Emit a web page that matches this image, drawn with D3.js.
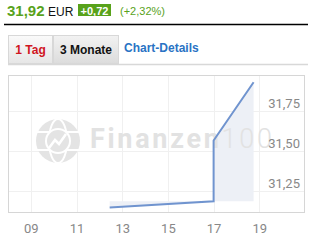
<!DOCTYPE html>
<html>
<head>
<meta charset="UTF-8">
<title>Kurs 1 Tag</title>
<script src="https://cdn.jsdelivr.net/npm/d3@7"></script>
<style>
  body { margin: 0; background: #fff; font-family: "Liberation Sans", Arial, sans-serif; }
  svg { display: block; }
</style>
</head>
<body>
<svg id="chart" width="334" height="251"></svg>
<script>
// data
var hours = [12.45, 17.0, 17.0, 18.75];
var prices = [31.151, 31.189, 31.567, 31.93];
var xTickValues = [9, 11, 13, 15, 17, 19];
var yTickValues = [31.25, 31.5, 31.75];
var quote = "31,92", currency = "EUR", change = "+0,72", changePct = "(+2,32%)";

var svg = d3.select("#chart");
var green = "#58a21b";
var sans = "'Liberation Sans', Arial, sans-serif";

// header
svg.append("text").attr("x", 7).attr("y", 16)
  .style("font", "bold 15px " + sans).style("fill", green).text(quote);
svg.append("text").attr("x", 48).attr("y", 16)
  .style("font", "12px " + sans).style("fill", "#111").text(currency);
svg.append("rect").attr("x", 78).attr("y", 4).attr("width", 33).attr("height", 12).style("fill", green);
svg.append("text").attr("x", 94.5).attr("y", 14.5).attr("text-anchor", "middle")
  .style("font", "bold 11px " + sans).style("fill", "#fff").text(change);
svg.append("text").attr("x", 120).attr("y", 14.5)
  .style("font", "11px " + sans).style("fill", green).text(changePct);
svg.append("line").attr("x1", 4).attr("x2", 308).attr("y1", 24.5).attr("y2", 24.5)
  .style("stroke", "#000").style("stroke-width", 1.5);

// tabs
var defs = svg.append("defs");
var g1 = defs.append("linearGradient").attr("id", "tabg").attr("x1", 0).attr("y1", 0).attr("x2", 0).attr("y2", 1);
g1.append("stop").attr("offset", 0).attr("stop-color", "#fafafa");
g1.append("stop").attr("offset", 1).attr("stop-color", "#e6e6e6");
var g2 = defs.append("linearGradient").attr("id", "tabg2").attr("x1", 0).attr("y1", 0).attr("x2", 0).attr("y2", 1);
g2.append("stop").attr("offset", 0).attr("stop-color", "#f2f2f2");
g2.append("stop").attr("offset", 1).attr("stop-color", "#dcdcdc");
svg.append("rect").attr("x", 8.5).attr("y", 35.5).attr("width", 44).attr("height", 28)
  .style("fill", "url(#tabg)").style("stroke", "#d8d8d8");
svg.append("rect").attr("x", 53.5).attr("y", 35.5).attr("width", 65).attr("height", 28)
  .style("fill", "url(#tabg2)").style("stroke", "#d8d8d8");
svg.append("text").attr("x", 30.5).attr("y", 54).attr("text-anchor", "middle")
  .style("font", "bold 12px " + sans).style("fill", "#d0161f").text("1 Tag");
svg.append("text").attr("x", 86).attr("y", 54).attr("text-anchor", "middle")
  .style("font", "bold 12px " + sans).style("fill", "#111").text("3 Monate");
svg.append("text").attr("x", 124).attr("y", 52)
  .style("font", "bold 12px " + sans).style("fill", "#2a73c4").text("Chart-Details");
svg.append("line").attr("x1", 8).attr("x2", 308).attr("y1", 64.5).attr("y2", 64.5)
  .style("stroke", "#d8d8d8").style("stroke-width", 1.5);

// plot area
var pLeft = 8, pRight = 305, pTop = 75, pBottom = 213;
var x = d3.scaleLinear().domain([8, 21]).range([pLeft, pRight]);
var y = d3.scaleLinear().domain([31.116, 31.975]).range([pBottom, pTop]);

var plot = svg.append("g");

// grid
plot.selectAll(".vg").data(xTickValues).join("line")
  .attr("x1", d => Math.round(x(d)) + 0.5).attr("x2", d => Math.round(x(d)) + 0.5)
  .attr("y1", pTop).attr("y2", pBottom).style("stroke", "#f0f0f0");
plot.selectAll(".hg").data(yTickValues).join("line")
  .attr("y1", d => Math.round(y(d)) + 0.5).attr("y2", d => Math.round(y(d)) + 0.5)
  .attr("x1", pLeft).attr("x2", pRight).style("stroke", "#f0f0f0");

// area
var pts = hours.map((h, i) => ({h: h, p: prices[i]}));
var area = d3.area().x(d => x(d.h)).y0(y(prices[1])).y1(d => y(d.p));
plot.append("path").datum(pts).attr("d", area).style("fill", "#edf0f6");

// watermark (sits over the fill)
var wm = plot.append("g").attr("transform", "translate(58,141)").style("fill", "#e4e4e4");
wm.append("circle").attr("r", 22);
wm.append("ellipse").attr("rx", 9).attr("ry", 22).style("fill", "none").style("stroke", "#fff").style("stroke-width", 2);
wm.append("line").attr("x1", -22).attr("x2", 22).attr("y1", -9).attr("y2", -9).style("stroke", "#fff").style("stroke-width", 2);
wm.append("line").attr("x1", -22).attr("x2", 22).attr("y1", 9).attr("y2", 9).style("stroke", "#fff").style("stroke-width", 2);
wm.append("circle").attr("r", 13).style("fill", "#fff");
wm.append("circle").attr("r", 11).style("fill", "#e4e4e4");
wm.append("path").attr("d", "M-9,7 L-3,-1 L1,3 L8,-7").style("fill", "none").style("stroke", "#fff").style("stroke-width", 2.5);
var wt = plot.append("text").attr("x", 90).attr("y", 148)
  .style("font-family", "Roboto, Arial").style("font-size", "27px").style("letter-spacing", "2.7px")
  .style("fill", "#e2e2e2");
wt.append("tspan").style("font-weight", "bold").text("Finanzen");
wt.append("tspan").style("font-weight", "300").text("100");

// line
var line = d3.line().x(d => x(d.h)).y(d => y(d.p));
plot.append("path").datum(pts).attr("d", line)
  .style("fill", "none").style("stroke", "#7094cf").style("stroke-width", 2);

// frame
plot.append("rect").attr("x", pLeft + 0.5).attr("y", pTop + 0.5).attr("width", pRight - pLeft - 1).attr("height", pBottom - pTop - 1)
  .style("fill", "none").style("stroke", "#d6d6d6");

// axes
var xAxis = d3.axisBottom(x).tickValues(xTickValues).tickSize(0).tickPadding(11)
  .tickFormat(d => d3.format("02d")(d));
var gx = svg.append("g").attr("transform", "translate(0," + pBottom + ")").call(xAxis);
gx.select(".domain").remove();
gx.selectAll("text").style("font", "13px Roboto, Arial").style("fill", "#888");

var yAxis = d3.axisRight(y).tickValues(yTickValues).tickSize(0)
  .tickFormat(d => d3.format(".2f")(d).replace(".", ","));
var gy = svg.append("g").attr("transform", "translate(300,0)").call(yAxis);
gy.select(".domain").remove();
gy.selectAll("text").attr("text-anchor", "end").attr("x", 0).attr("dy", "-3.5px")
  .style("font", "13px Roboto, Arial").style("fill", "#888");
</script>
</body>
</html>
